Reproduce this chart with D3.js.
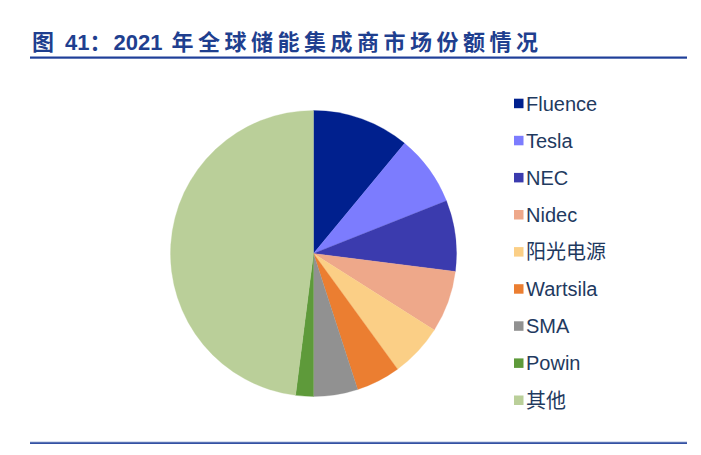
<!DOCTYPE html>
<html>
<head>
<meta charset="utf-8">
<script src="https://cdn.jsdelivr.net/npm/d3@7"></script>
<style>
  html, body { margin: 0; padding: 0; background: #fff; }
  svg { display: block; }
</style>
</head>
<body>
<svg id="chart" width="701" height="455"></svg>
<script>
const categories = ["Fluence", "Tesla", "NEC", "Nidec", "阳光电源", "Wartsila", "SMA", "Powin", "其他"];
const shares = [11, 8, 8, 7, 6, 5, 5, 2, 48];
const colors = ["#00208E", "#7C7CFE", "#3B3BAE", "#EEA88A", "#FBCF86", "#EB7E31", "#919191", "#5E9A3A", "#BACF99"];

const svg = d3.select("#chart");

// Title
const title = svg.append("text")
  .attr("x", 32).attr("y", 50)
  .attr("fill", "#1F3F8F")
  .attr("font-family", "'Liberation Sans', 'Noto Sans CJK SC', sans-serif")
  .attr("font-weight", "bold")
  .attr("font-size", 22);
title.append("tspan").attr("font-family", "'Noto Sans CJK SC', sans-serif").text("图");
title.append("tspan").attr("dx", 11).text("41");
title.append("tspan").attr("font-family", "'Noto Sans CJK SC', sans-serif").text("：");
title.append("tspan").attr("dx", 2).text("2021");
title.append("tspan").attr("dx", 9).attr("font-family", "'Noto Sans CJK SC', sans-serif")
  .attr("letter-spacing", 4.5).text("年全球储能集成商市场份额情况");

// Rules
svg.append("rect").attr("x", 30).attr("y", 56.5).attr("width", 657).attr("height", 2.2).attr("fill", "#1F3F99");
svg.append("rect").attr("x", 30).attr("y", 441.5).attr("width", 657).attr("height", 0.8).attr("fill", "#AFC0E0");
svg.append("rect").attr("x", 30).attr("y", 442.3).attr("width", 657).attr("height", 1.6).attr("fill", "#1F3F99");

// Pie
const cx = 313.5, cy = 253.5, r = 143;
const data = categories.map((c, i) => ({ name: c, value: shares[i], color: colors[i] }));
const pie = d3.pie().sort(null).value(d => d.value).startAngle(0).endAngle(2 * Math.PI);
const arc = d3.arc().innerRadius(0).outerRadius(r);
svg.append("g").attr("transform", `translate(${cx},${cy})`)
  .selectAll("path").data(pie(data)).join("path")
  .attr("d", arc)
  .attr("fill", d => d.data.color)
  .attr("stroke", d => d.data.color)
  .attr("stroke-width", 0.3);

// Legend
const legend = svg.append("g");
const rowY = d3.scaleLinear().domain([0, 8]).range([110.7, 407.5]);
const items = legend.selectAll("g").data(data).join("g")
  .attr("transform", (d, i) => `translate(0,${rowY(i)})`);
items.append("rect")
  .attr("x", 514).attr("y", -12).attr("width", 9.5).attr("height", 9.5)
  .attr("fill", d => d.color);
items.append("text")
  .attr("x", 526).attr("y", 0)
  .attr("fill", "#1F3A5F")
  .attr("font-family", "'Liberation Sans', 'Noto Sans CJK SC', sans-serif")
  .attr("font-size", 20)
  .text(d => d.name);
</script>
</body>
</html>
